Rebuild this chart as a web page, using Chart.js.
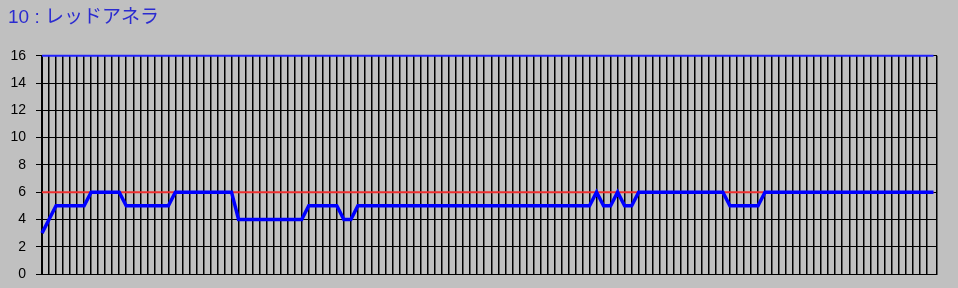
<!DOCTYPE html>
<html>
<head>
<meta charset="utf-8">
<script src="https://cdn.jsdelivr.net/npm/chart.js@4"></script>
<style>
    html, body { margin: 0; padding: 0; background: #c0c0c0; }
    #wrap { width: 958px; height: 288px; }
</style>
</head>
<body>
<div id="wrap"><canvas id="chart" width="958" height="288"></canvas></div>
<script>
// Chart data
const chartTitle = '10 : レッドアネラ';
const yTicks = [0, 2, 4, 6, 8, 10, 12, 14, 16];
const limitValue = 6;
const topValue = 16;

// one value per time slot (128 slots)
const values = [
    3, 4, 5, 5, 5, 5, 5, 6, 6, 6, 6, 6, 5, 5, 5, 5,
    5, 5, 5, 6, 6, 6, 6, 6, 6, 6, 6, 6, 4, 4, 4, 4,
    4, 4, 4, 4, 4, 4, 5, 5, 5, 5, 5, 4, 4, 5, 5, 5,
    5, 5, 5, 5, 5, 5, 5, 5, 5, 5, 5, 5, 5, 5, 5, 5,
    5, 5, 5, 5, 5, 5, 5, 5, 5, 5, 5, 5, 5, 5, 5, 6,
    5, 5, 6, 5, 5, 6, 6, 6, 6, 6, 6, 6, 6, 6, 6, 6,
    6, 6, 5, 5, 5, 5, 5, 6, 6, 6, 6, 6, 6, 6, 6, 6,
    6, 6, 6, 6, 6, 6, 6, 6, 6, 6, 6, 6, 6, 6, 6, 6
];

const lastIndex = values.length - 1;

// Build points for linear x axis
const mainPoints = values.map((v, i) => ({ x: i, y: v }));
const limitPoints = [{ x: 0, y: limitValue }, { x: lastIndex, y: limitValue }];
const topPoints = [{ x: 0, y: topValue }, { x: lastIndex, y: topValue }];

const ctx = document.getElementById('chart');

new Chart(ctx, {
    type: 'line',
    data: {
        datasets: [
            {
                data: mainPoints,
                borderColor: '#0000ff',
                borderWidth: 3.5,
                pointRadius: 0,
                tension: 0,
                clip: false
            },
            {
                data: limitPoints,
                borderColor: '#f03030',
                borderWidth: 2,
                pointRadius: 0,
                clip: false
            },
            {
                data: topPoints,
                borderColor: '#2020ff',
                borderWidth: 2,
                pointRadius: 0,
                clip: false
            }
        ]
    },
    options: {
        responsive: false,
        animation: false,
        layout: {
            padding: { left: 8, right: 21, top: 0, bottom: 14 }
        },
        plugins: {
            legend: { display: false },
            tooltip: { enabled: false },
            title: {
                display: true,
                text: chartTitle,
                align: 'start',
                color: '#2b2bd0',
                font: { family: "'Liberation Sans', 'Noto Sans CJK JP', sans-serif", size: 19, weight: 'normal' },
                padding: { top: 6, bottom: 27 }
            }
        },
        scales: {
            x: {
                type: 'linear',
                min: 0,
                max: lastIndex + 0.5,
                afterFit: function(scale) { scale.height = 0; },
                ticks: { display: false, stepSize: 1, maxTicksLimit: 300 },
                grid: { color: '#000', lineWidth: 1.5, drawTicks: false },
                border: { color: '#000' }
            },
            y: {
                min: 0,
                max: 16,
                afterFit: function(scale) {
                    scale.width = 34;
                    scale.paddingTop = 0;
                    scale.paddingBottom = 0;
                },
                afterBuildTicks: function(scale) {
                    scale.ticks = yTicks.map(v => ({ value: v }));
                },
                ticks: {
                    color: '#000',
                    padding: 10,
                    font: { family: "'Liberation Sans', sans-serif", size: 14 }
                },
                grid: { color: '#000', lineWidth: 1, tickLength: 6 },
                border: { color: '#000' }
            }
        }
    }
});
</script>
</body>
</html>
